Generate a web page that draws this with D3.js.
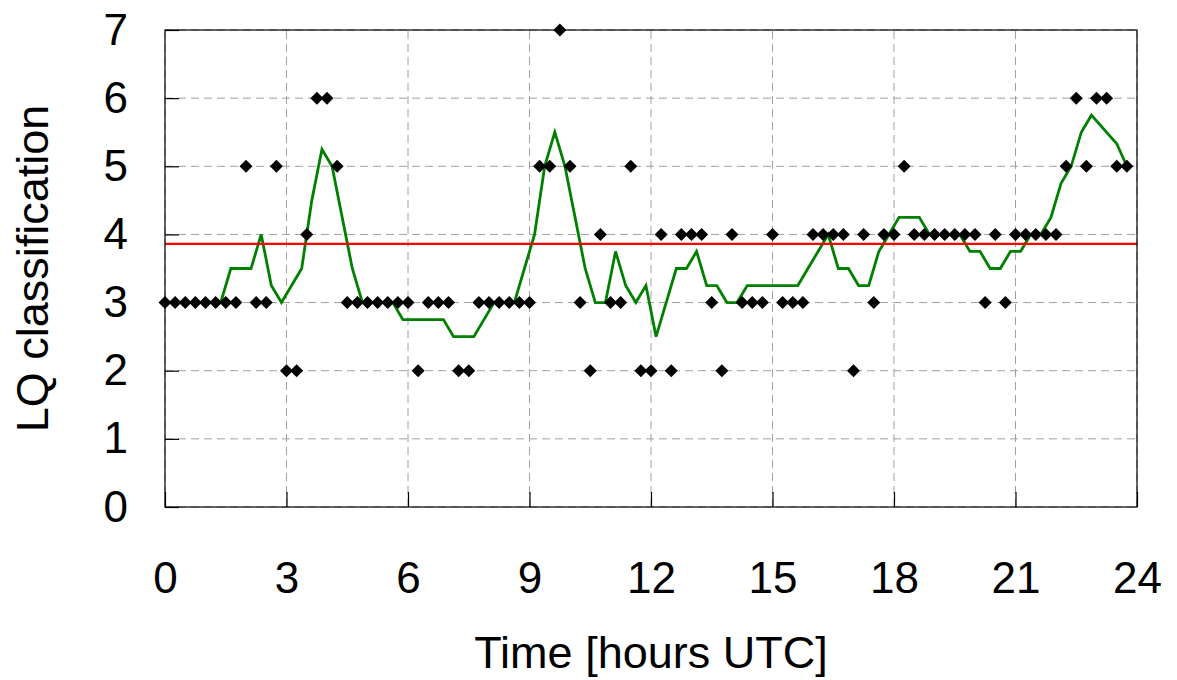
<!DOCTYPE html>
<html>
<head>
<meta charset="utf-8">
<script src="https://cdn.jsdelivr.net/npm/d3@7"></script>
<style>
  html, body { margin: 0; padding: 0; background: #fff; }
  svg { display: block; }
  text { font-family: "Liberation Sans", Arial, Helvetica, sans-serif; fill: #000; }
</style>
</head>
<body>
<svg id="chart" width="1177" height="680"></svg>
<script>
// LQ classification, one sample every 15 minutes over the day (UTC)
const lqClass = [
  3, 3, 3, 3, 3, 3, 3, 3, 5, 3, 3, 5, 2, 2, 4, 6,
  6, 5, 3, 3, 3, 3, 3, 3, 3, 2, 3, 3, 3, 2, 2, 3,
  3, 3, 3, 3, 3, 5, 5, 7, 5, 3, 2, 4, 3, 3, 5, 2,
  2, 4, 2, 4, 4, 4, 3, 2, 4, 3, 3, 3, 4, 3, 3, 3,
  4, 4, 4, 4, 2, 4, 3, 4, 4, 5, 4, 4, 4, 4, 4, 4,
  4, 3, 4, 3, 4, 4, 4, 4, 4, 5, 6, 5, 6, 6, 5, 5
];
const sampleHours = d3.range(0, 24, 0.25);

// Hourly running mean, placed at the centre of each window
const smoothLQ = [
  3, 3, 3, 3, 3, 3.5, 3.5, 3.5, 4, 3.25, 3, 3.25, 3.5, 4.5, 5.25, 5,
  4.25, 3.5, 3, 3, 3, 3, 2.75, 2.75, 2.75, 2.75, 2.75, 2.5, 2.5, 2.5, 2.75, 3,
  3, 3, 3.5, 4, 5, 5.5, 5, 4.25, 3.5, 3, 3, 3.75, 3.25, 3, 3.25, 2.5,
  3, 3.5, 3.5, 3.75, 3.25, 3.25, 3, 3, 3.25, 3.25, 3.25, 3.25, 3.25, 3.25, 3.5, 3.75,
  4, 3.5, 3.5, 3.25, 3.25, 3.75, 4, 4.25, 4.25, 4.25, 4, 4, 4, 4, 3.75, 3.75,
  3.5, 3.5, 3.75, 3.75, 4, 4, 4.25, 4.75, 5, 5.5, 5.75
];
const smoothHours = d3.range(0.375, 23, 0.25);
const tailHours = [23.5, 23.75];
const tailLQ = [5.33, 5.0];

const threshold = 3.86;

const xTickValues = [0, 3, 6, 9, 12, 15, 18, 21, 24];
const yTickValues = [0, 1, 2, 3, 4, 5, 6, 7];
const xTitle = "Time [hours UTC]";
const yTitle = "LQ classification";

// ---- layout ----
const W = 1177, H = 680;
const plot = { left: 165, right: 1137, top: 30, bottom: 507 };

const svg = d3.select("#chart");
svg.append("rect").attr("width", W).attr("height", H).attr("fill", "#fff");

const x = d3.scaleLinear().domain([0, 24]).range([plot.left, plot.right]);
const y = d3.scaleLinear().domain([0, 7]).range([plot.bottom, plot.top]);

// dashed grid
const grid = svg.append("g")
  .attr("stroke", "#a0a0a0")
  .attr("stroke-width", 1)
  .attr("stroke-dasharray", "8,5");
grid.selectAll("line.gx").data(xTickValues).join("line")
  .attr("class", "gx")
  .attr("x1", d => x(d)).attr("x2", d => x(d))
  .attr("y1", plot.bottom).attr("y2", plot.top);
grid.selectAll("line.gy").data(yTickValues).join("line")
  .attr("class", "gy")
  .attr("x1", plot.left).attr("x2", plot.right)
  .attr("y1", d => y(d)).attr("y2", d => y(d));

// axes with inward ticks
const xAxis = svg.append("g")
  .attr("transform", `translate(0,${plot.bottom})`)
  .call(d3.axisBottom(x).tickValues(xTickValues).tickFormat(d3.format("d"))
    .tickSize(-15).tickPadding(55));
const yAxis = svg.append("g")
  .attr("transform", `translate(${plot.left},0)`)
  .call(d3.axisLeft(y).tickValues(yTickValues).tickFormat(d3.format("d"))
    .tickSize(-14).tickPadding(37));
[xAxis, yAxis].forEach(g => {
  g.select(".domain").remove();
  g.selectAll(".tick line").attr("stroke", "#000").attr("stroke-width", 1.2);
  g.selectAll(".tick text").attr("font-size", 44)
    .attr("font-family", "'Liberation Sans', Arial, Helvetica, sans-serif");
});

// running mean
const smoothPts = smoothHours.map((h, i) => [h, smoothLQ[i]])
  .concat(tailHours.map((h, i) => [h, tailLQ[i]]));
const line = d3.line().x(d => x(d[0])).y(d => y(d[1]));
svg.append("path")
  .datum(smoothPts)
  .attr("d", line)
  .attr("fill", "none")
  .attr("stroke", "#008000")
  .attr("stroke-width", 2.8)
  .attr("stroke-linejoin", "miter");

// threshold
svg.append("line")
  .attr("x1", plot.left).attr("x2", plot.right)
  .attr("y1", y(threshold)).attr("y2", y(threshold))
  .attr("stroke", "#ff0000")
  .attr("stroke-width", 2.2);

// samples as diamonds
const diamond = d3.symbol().type(d3.symbolDiamond2).size(108);
svg.append("g").selectAll("path")
  .data(lqClass.map((v, i) => [sampleHours[i], v]))
  .join("path")
  .attr("transform", d => `translate(${x(d[0])},${y(d[1])})`)
  .attr("d", diamond)
  .attr("fill", "#000");

// frame
svg.append("rect")
  .attr("x", plot.left).attr("y", plot.top)
  .attr("width", plot.right - plot.left)
  .attr("height", plot.bottom - plot.top)
  .attr("fill", "none")
  .attr("stroke", "#000")
  .attr("stroke-width", 1.2);

// titles
svg.append("text")
  .attr("x", (plot.left + plot.right) / 2)
  .attr("y", 668)
  .attr("text-anchor", "middle")
  .attr("font-size", 45)
  .text(xTitle);
svg.append("text")
  .attr("transform", `translate(48,${(plot.top + plot.bottom) / 2}) rotate(-90)`)
  .attr("text-anchor", "middle")
  .attr("font-size", 45)
  .text(yTitle);
</script>
</body>
</html>
